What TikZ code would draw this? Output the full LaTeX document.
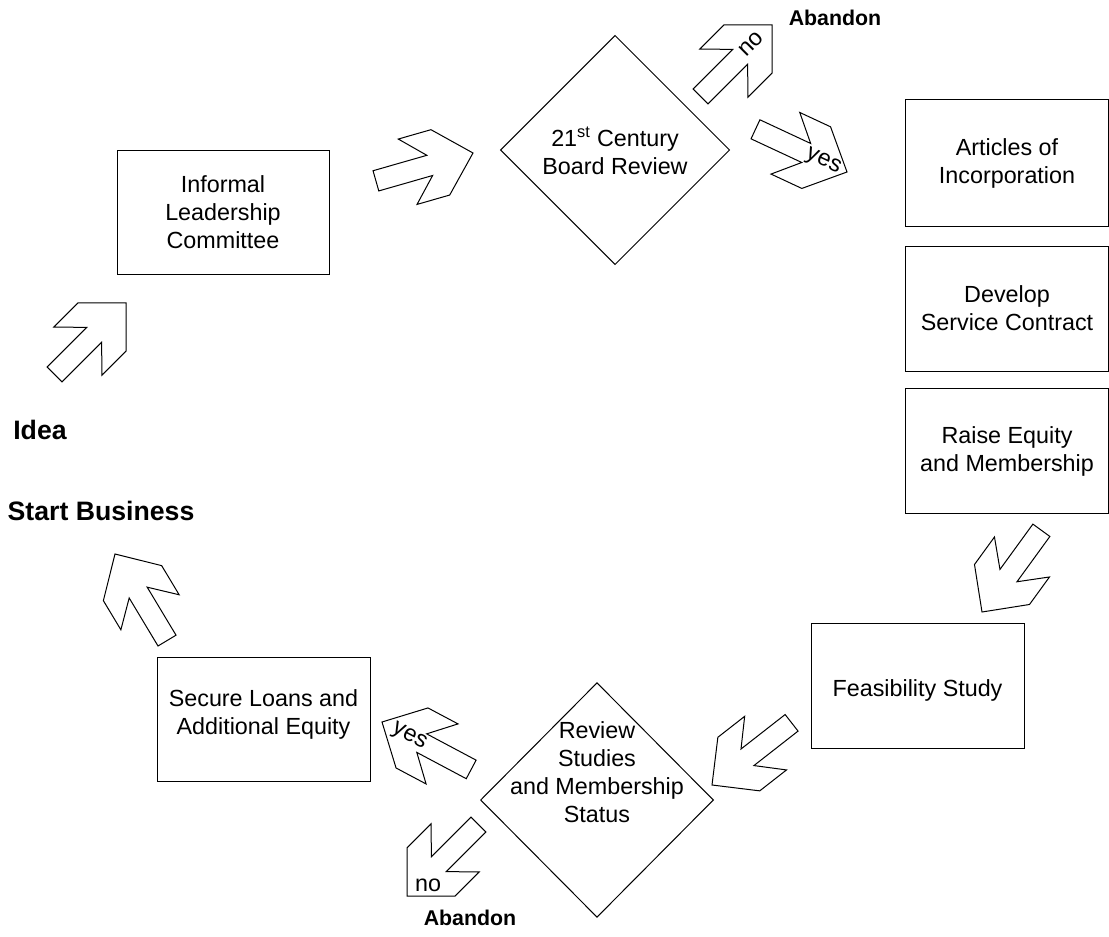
\documentclass[tikz,border=0pt]{standalone}
\usepackage{fontspec}
\setmainfont{Liberation Sans}
\usetikzlibrary{shapes.geometric}
\tikzset{
  lw/.style={line width=0.75pt},
  txt/.style={align=center, inner sep=0pt, font=\fontsize{17.5pt}{21pt}\selectfont},
  bold/.style={inner sep=0pt, font=\fontsize{20pt}{24pt}\selectfont\bfseries},
  boldsmall/.style={inner sep=0pt, font=\fontsize{16pt}{20pt}\selectfont\bfseries},
  stepbox/.style={lw, draw, rectangle, inner sep=0pt},
  decision/.style={lw, draw, diamond, aspect=1, inner sep=0pt, minimum width=172pt, minimum height=172pt},
  arrlabel/.style={inner sep=0pt, font=\fontsize{17.5pt}{21pt}\selectfont},
  blockarrow/.pic={\draw[lw, line join=miter] (0,0) -- (-34,34) -- (-68,34) -- (-45,10.5) -- (-101,10.5) -- (-101,-10.5) -- (-45,-10.5) -- (-68,-34) -- (-34,-34) -- cycle;}
}
\begin{document}
\begin{tikzpicture}[x=0.75pt,y=-0.75pt]
\useasboundingbox (0,0) rectangle (1109,937);
% boxes
\node[stepbox, minimum width=159pt, minimum height=93pt] (informal) at (223,213) {};
\node[txt] (informal-t) at (223,212) {Informal\\Leadership\\Committee};
\node[stepbox, minimum width=152.25pt, minimum height=95.25pt] (articles) at (1006.5,163.5) {};
\node[txt] (articles-t) at (1007,163) {Articles of\\Incorporation};
\node[stepbox, minimum width=152.25pt, minimum height=93.75pt] (develop) at (1006.5,309.5) {};
\node[txt] (develop-t) at (1007,308) {Develop\\Service Contract};
\node[stepbox, minimum width=152.25pt, minimum height=93pt] (raise) at (1006.5,451) {};
\node[txt] (raise-t) at (1007,451) {Raise Equity\\and Membership};
\node[stepbox, minimum width=159.75pt, minimum height=93.75pt] (feas) at (917.5,685.5) {};
\node[txt] (feas-t) at (917.5,690) {Feasibility Study};
\node[stepbox, minimum width=159.75pt, minimum height=93pt] (secure) at (263.5,719) {};
\node[txt] (secure-t) at (263.5,714) {Secure Loans and\\Additional Equity};
% diamonds
\node[decision] (board) at (615,150) {};
\node[txt] (board-t) at (615,151) {21\textsuperscript{st} Century\\Board Review};
\node[decision, minimum width=174.75pt, minimum height=176pt] (review) at (597,800) {};
\node[txt] (review-t) at (597,772) {Review\\Studies\\and Membership\\Status};
% bold labels
\node[boldsmall] (abandon1) at (835,18) {Abandon};
\node[bold] (idea) at (40,430) {Idea};
\node[bold] (start) at (101,511) {Start Business};
\node[boldsmall] (abandon2) at (470,918) {Abandon};
% block arrows
\pic[rotate=45] at (126,303) {blockarrow};
\pic[rotate=16] at (473,153) {blockarrow};
\pic[rotate=45] at (772,25) {blockarrow};
\pic[rotate=-25] at (847,172) {blockarrow};
\pic[rotate=234] at (982,612) {blockarrow};
\pic[rotate=218] at (712,785) {blockarrow};
\pic[rotate=152] at (382,722) {blockarrow};
\pic[rotate=225] at (407,896) {blockarrow};
\pic[rotate=121] at (115,554) {blockarrow};
% arrow labels
\node[arrlabel, rotate=45] (no1) at (751,44) {no};
\node[arrlabel, rotate=-25] (yes1) at (823,162) {yes};
\node[arrlabel, rotate=-28] (yes2) at (409,737) {yes};
\node[arrlabel] (no2) at (428,885) {no};
\end{tikzpicture}
\end{document}
